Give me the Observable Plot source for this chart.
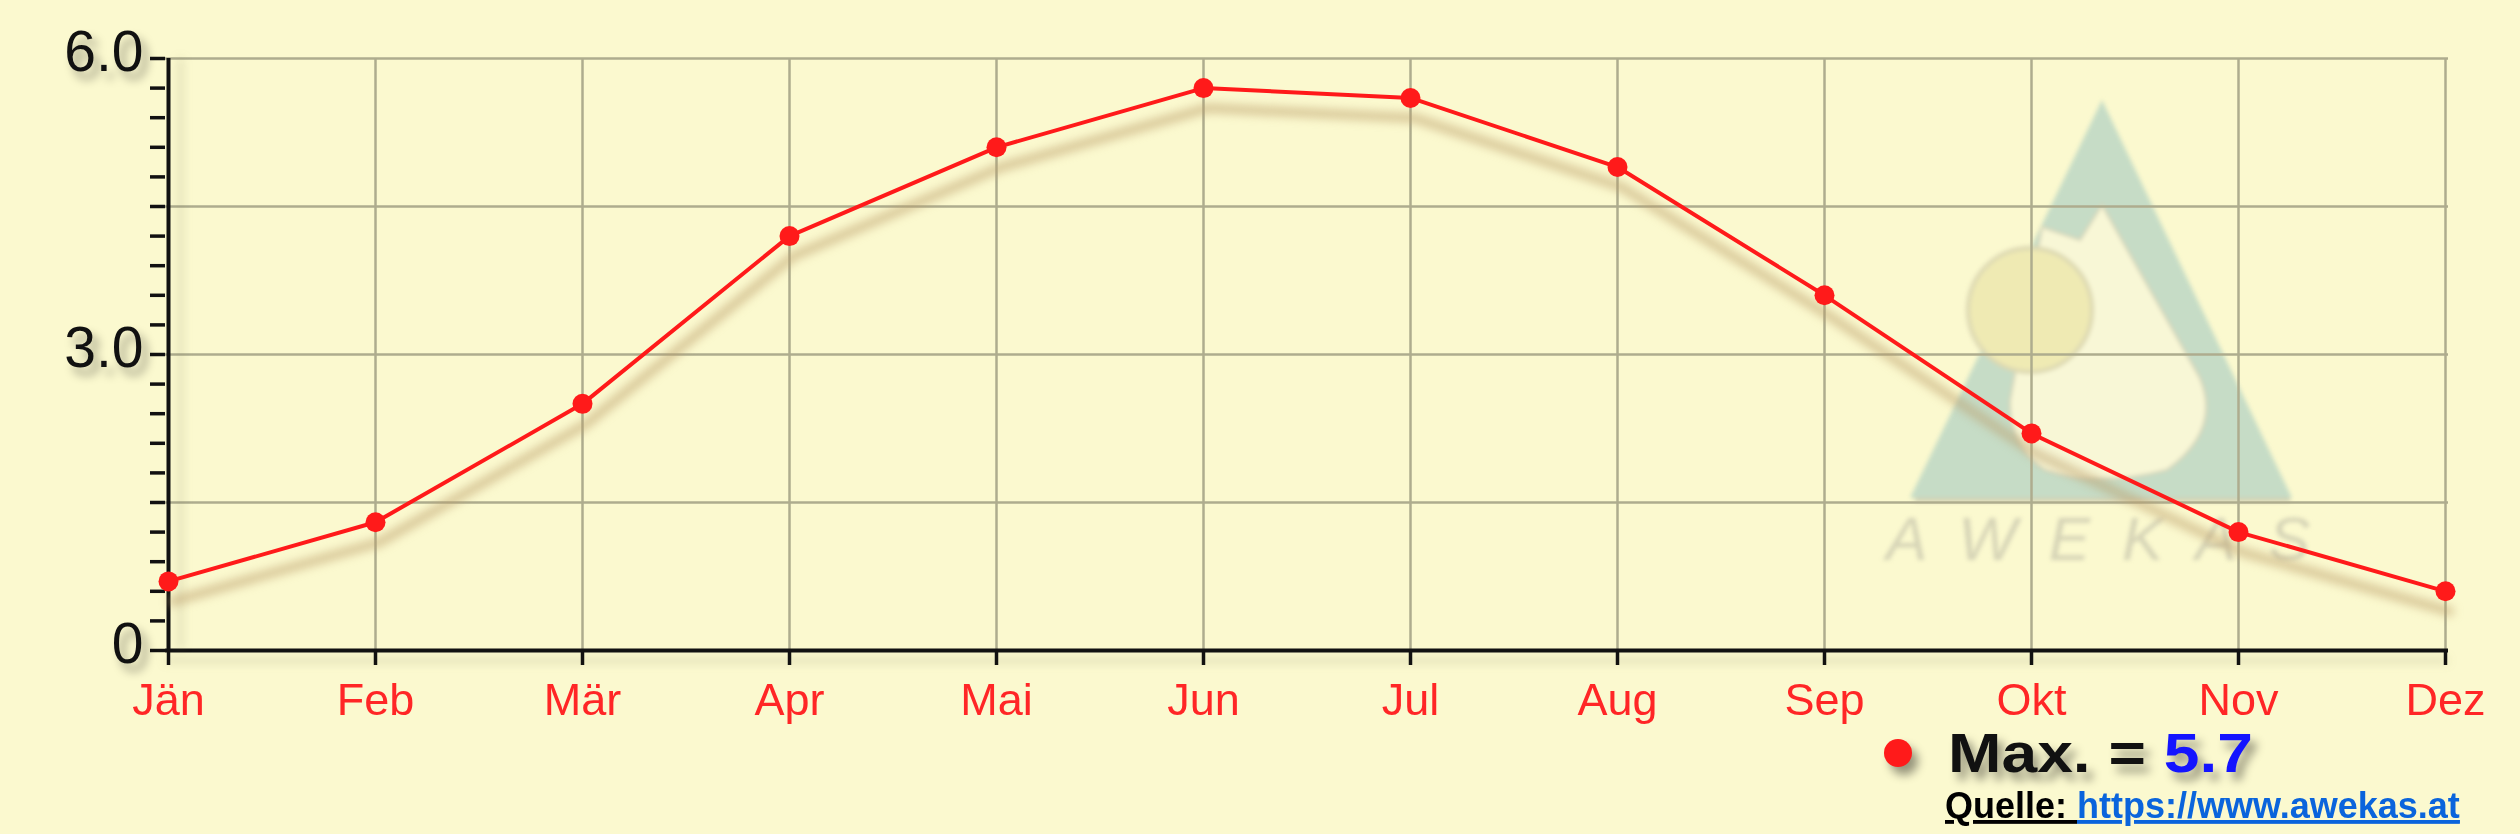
<!DOCTYPE html>
<html>
<head>
<meta charset="utf-8">
<script src="https://cdn.jsdelivr.net/npm/d3@7"></script>
<script src="https://cdn.jsdelivr.net/npm/@observablehq/plot@0.6"></script>
<style>
  html, body { margin: 0; padding: 0; background: #fbf9cf; }
  #wrap { position: relative; width: 2520px; height: 834px; overflow: hidden; font-family: "Liberation Sans", Arial, sans-serif; }
  #wm, #chart, #legend { position: absolute; left: 0; top: 0; }
</style>
</head>
<body>
<div id="wrap">
  <svg id="wm" width="2520" height="834" style="filter: blur(2px)">
    <path d="M2102,100 L2292,498 L1910,498 Z" fill="#c6dcc6"/>
    <path d="M2042,227 L2080,240 L2102,205 L2200,378 Q2222,430 2167,470 Q2100,488 2045,470 Q2008,445 2010,400 Z" fill="#f8f7d6" stroke="#d8d4b8" stroke-width="2"/>
    <circle cx="2030" cy="310" r="62" fill="#efeab3" stroke="#dcd8b2" stroke-width="4"/>
    <line x1="1915" y1="500" x2="2290" y2="500" stroke="#d3d0b2" stroke-width="4"/>
    <text x="1886" y="560" font-size="62" font-style="italic" fill="#d6d4b6" textLength="424" lengthAdjust="spacing" font-family="Liberation Sans, Arial, sans-serif">AWEKAS</text>
  </svg>
  <div id="chart"></div>
  <svg id="legend" width="2520" height="834"></svg>
</div>
<script>
const months = ["Jän","Feb","Mär","Apr","Mai","Jun","Jul","Aug","Sep","Okt","Nov","Dez"];
const values = [0.7, 1.3, 2.5, 4.2, 5.1, 5.7, 5.6, 4.9, 3.6, 2.2, 1.2, 0.6];
const yLabelTicks = [0, 3, 6];
const yMinorTicks = d3.range(0, 21).map(i => +(i * 0.3).toFixed(1));
const yGridLines = [1.5, 3, 4.5, 6];
const legendText = "Max. = ";
const sourceLabel = "Quelle: ";
const sourceUrl = "https://www.awekas.at";

const data = months.map((m, i) => ({month: m, value: values[i]}));
const red = "#ff1a1a";
const gridColor = "#aeac8e";

const chart = Plot.plot({
  width: 2520,
  height: 834,
  marginLeft: 165,
  marginRight: 72,
  marginTop: 58,
  marginBottom: 184,
  style: {background: "transparent", fontFamily: "Liberation Sans, Arial, sans-serif", overflow: "visible"},
  x: {type: "point", domain: months, padding: 0, label: null},
  y: {domain: [0, 6], label: null},
  marks: [
    Plot.gridY(yGridLines, {stroke: gridColor, strokeOpacity: 1, strokeWidth: 2.5}),
    Plot.gridX(months, {stroke: gridColor, strokeOpacity: 1, strokeWidth: 2.5}),
    Plot.ruleY([0], {stroke: "#111", strokeWidth: 4, imageFilter: "drop-shadow(0px 10px 5px rgba(110,110,70,0.25))"}),
    Plot.ruleX([months[0]], {stroke: "#111", strokeWidth: 4, imageFilter: "drop-shadow(12px 0px 5px rgba(110,110,70,0.25))"}),
    Plot.axisY({ticks: yMinorTicks, tickSize: 15, tickFormat: () => "", stroke: "#111", strokeWidth: 3.5, label: null}),
    Plot.axisY({ticks: yLabelTicks, tickSize: 0, tickPadding: 22, fontSize: 57, fill: "#111", dy: -6,
      tickFormat: d => d === 0 ? "0" : d.toFixed(1), label: null,
      imageFilter: "drop-shadow(6px 8px 5px rgba(0,0,0,0.35))"}),
    Plot.axisX({tickSize: 15, tickPadding: 18, fontSize: 45, fill: "#ff2626", stroke: "#111", strokeWidth: 3.5, label: null}),
    Plot.line(data, {x: "month", y: "value", stroke: "#b99a68", strokeOpacity: 0.55, strokeWidth: 9, dx: 4, dy: 20,
      curve: "linear", imageFilter: "blur(5px)"}),
    Plot.line(data, {x: "month", y: "value", stroke: red, strokeWidth: 4, curve: "linear"}),
    Plot.dot(data, {x: "month", y: "value", r: 10, fill: red, stroke: "none"})
  ]
});
document.getElementById("chart").appendChild(chart);

// legend and source
const lg = d3.select("#legend");
const maxVal = d3.max(values);
lg.append("circle").attr("cx", 1898).attr("cy", 753).attr("r", 14).attr("fill", red)
  .style("filter", "drop-shadow(6px 8px 5px rgba(0,0,0,0.4))");
const t = lg.append("text").attr("x", 1948).attr("y", 772)
  .attr("font-size", 56).attr("font-weight", "bold")
  .attr("textLength", 305).attr("lengthAdjust", "spacingAndGlyphs")
  .attr("font-family", "Liberation Sans, Arial, sans-serif")
  .style("filter", "drop-shadow(6px 8px 5px rgba(0,0,0,0.4))");
t.append("tspan").attr("fill", "#111").text(legendText);
t.append("tspan").attr("fill", "#1414ff").text(maxVal.toFixed(1));

const s = lg.append("text").attr("x", 1945).attr("y", 818)
  .attr("font-size", 36).attr("font-weight", "bold")
  .attr("font-family", "Liberation Sans, Arial, sans-serif")
  .style("text-decoration", "underline");
s.append("tspan").attr("fill", "#000").style("text-decoration", "underline").text(sourceLabel);
s.append("tspan").attr("fill", "#0a64dc").style("text-decoration", "underline").text(sourceUrl);
</script>
</body>
</html>
